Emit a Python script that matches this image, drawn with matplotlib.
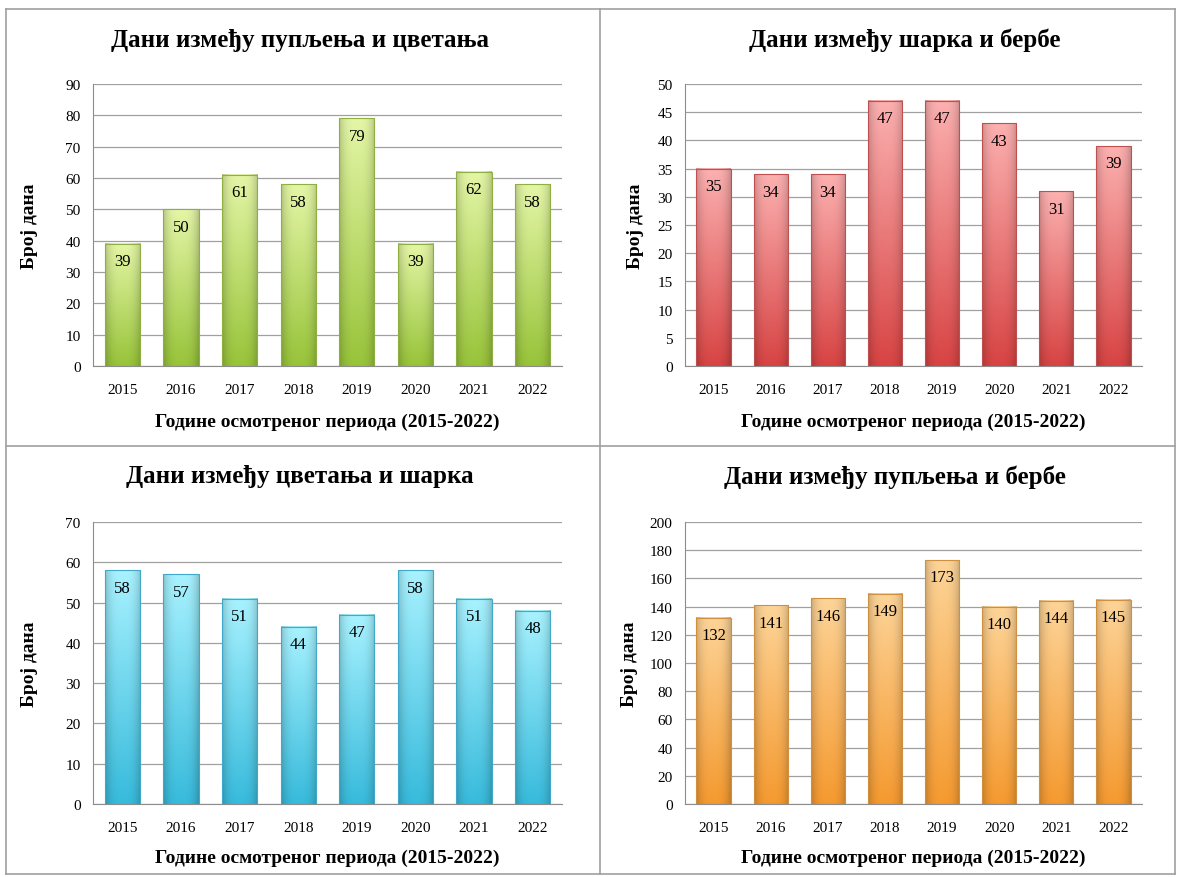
import numpy as np
import matplotlib.pyplot as plt
from matplotlib.lines import Line2D
from matplotlib.colors import to_rgb

plt.rcParams['font.family'] = ['Liberation Serif', 'DejaVu Serif']

years = ['2015', '2016', '2017', '2018', '2019', '2020', '2021', '2022']

# days between budding and flowering
bud_flower = [39, 50, 61, 58, 79, 39, 62, 58]
# days between veraison and harvest
ver_harvest = [35, 34, 34, 47, 47, 43, 31, 39]
# days between flowering and veraison
flower_ver = [58, 57, 51, 44, 47, 58, 51, 48]
# days between budding and harvest
bud_harvest = [132, 141, 146, 149, 173, 140, 144, 145]

titles = ['Дани између пупљења и цветања', 'Дани између шарка и бербе',
          'Дани између цветања и шарка', 'Дани између пупљења и бербе']
xlab = 'Године осмотреног периода (2015-2022)'
ylab = 'Број дана'

W, H = 1179, 878
fig = plt.figure(figsize=(W / 100, H / 100), dpi=100)


def fx(px):
    return px / W


def fy(py):
    return 1 - py / H


def grad_img(top, bot, n=64):
    top = np.array(to_rgb(top))
    bot = np.array(to_rgb(bot))
    t = np.linspace(0, 1, n)[:, None, None]
    col = top * (1 - t) + bot * t
    xs = np.linspace(-1, 1, n)
    shade = 1 - 0.2 * np.abs(xs) ** 3
    img = col * shade[None, :, None]
    return np.clip(img, 0, 1)


def draw(rect, vals, ymax, step, top, bot, edge, title, tpos, ylx, xly):
    ax = fig.add_axes(rect)
    x = np.arange(len(vals))
    w = 0.6
    img = grad_img(top, bot)
    bars = ax.bar(x, vals, width=w, facecolor='none', edgecolor=edge,
                  linewidth=0.8, zorder=3)
    for b in bars:
        ax.imshow(img, extent=(b.get_x(), b.get_x() + w, 0, b.get_height()),
                  aspect='auto', zorder=2, interpolation='bilinear')
    for xi, v in zip(x, vals):
        ax.annotate(str(v), (xi, v), xytext=(0, -12.5), textcoords='offset points',
                    ha='center', va='center', fontsize=12, zorder=4)
    ax.set_xlim(-0.5, len(vals) - 0.5)
    ax.set_ylim(0, ymax)
    ax.set_yticks(np.arange(0, ymax + 1, step))
    ax.set_xticks(x)
    ax.set_xticklabels(years)
    ax.yaxis.grid(True, color='#a0a0a0', linewidth=0.9, zorder=0)
    ax.set_axisbelow(True)
    for s in ['top', 'right']:
        ax.spines[s].set_visible(False)
    for s in ['left', 'bottom']:
        ax.spines[s].set_color('#8c8c8c')
    ax.tick_params(length=0, labelsize=11, pad=9)
    ax.tick_params(axis='x', pad=12)
    fig.text(fx(tpos[0]), fy(tpos[1]), title, ha='center', va='center',
             fontsize=18, fontweight='bold')
    fig.text(fx(ylx), rect[1] + rect[3] / 2, ylab, rotation=90, ha='center',
             va='center', fontsize=14, fontweight='bold')
    fig.text(rect[0] + rect[2] / 2, fy(xly), xlab, ha='center', va='center',
             fontsize=14, fontweight='bold')
    return ax


hgt = (367 - 85) / H
draw([fx(93), fy(367), fx(562 - 93), hgt], bud_flower, 90, 10,
     '#e4f6a6', '#98c43a', '#8fb040', titles[0], (300, 40), 30, 422)
draw([fx(685), fy(367), fx(1142 - 685), hgt], ver_harvest, 50, 5,
     '#fcb0b0', '#d84444', '#c05050', titles[1], (905, 40), 635, 422)
draw([fx(93), fy(805), fx(562 - 93), hgt], flower_ver, 70, 10,
     '#a8f2ff', '#38bbdc', '#40a8c8', titles[2], (300, 477), 30, 858)
draw([fx(685), fy(805), fx(1142 - 685), hgt], bud_harvest, 200, 20,
     '#fdd498', '#f59a30', '#d09040', titles[3], (895, 477), 630, 858)

# table borders
lc = '#a0a0a0'
for (x0, y0, x1, y1) in [(6, 10, 1175, 10), (6, 875, 1175, 875), (6, 10, 6, 875),
                         (1175, 10, 1175, 875), (600, 10, 600, 875), (6, 447, 1175, 447)]:
    fig.add_artist(Line2D([fx(x0), fx(x1)], [fy(y0), fy(y1)], color=lc, linewidth=1.2))

fig.savefig('out.png', dpi=100)
